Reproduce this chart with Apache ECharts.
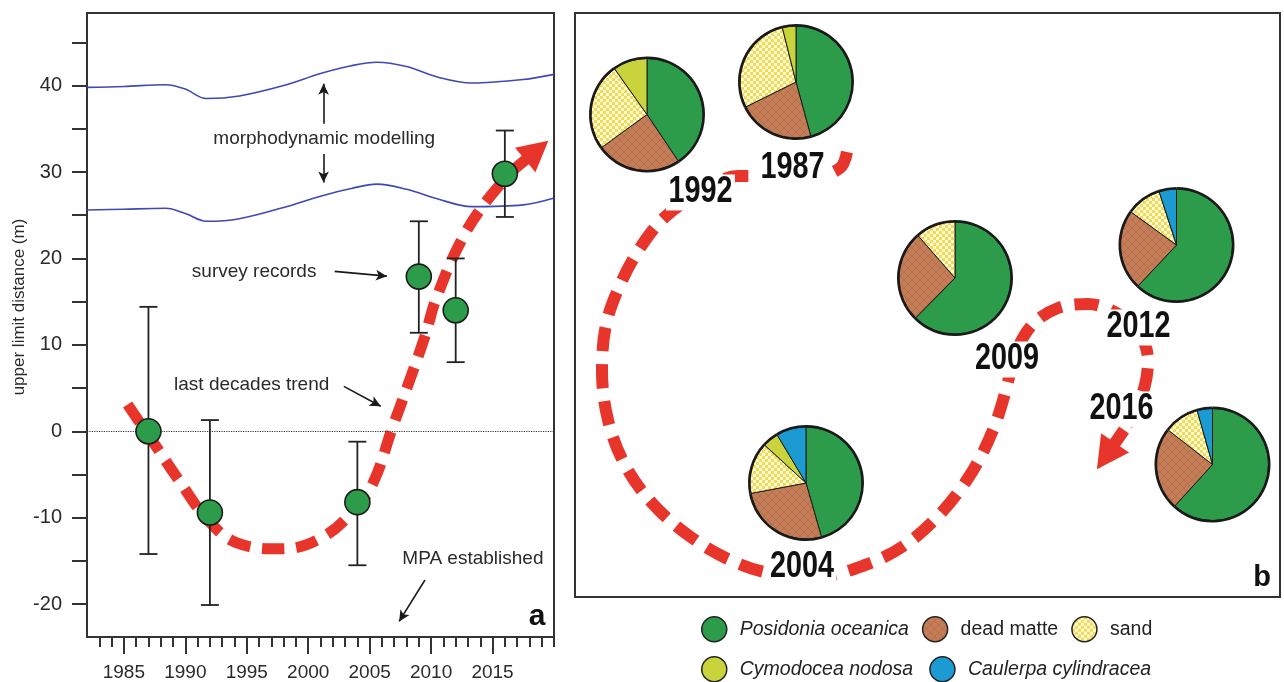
<!DOCTYPE html>
<html>
<head>
<meta charset="utf-8">
<script src="https://cdn.jsdelivr.net/npm/echarts@6/dist/echarts.min.js"></script>
<style>
html, body { margin: 0; padding: 0; background: #fff; }
#chart { width: 1284px; height: 682px; }
</style>
</head>
<body>
<div id="chart"></div>
<script>
// ---- panel a: upper limit distance ----
const surveyYears = [1987, 1992, 2004, 2009, 2012, 2016];
const surveyValues = [0, -9.4, -8.2, 17.9, 14.0, 29.8];
const errorLow = [-14.2, -20.1, -15.5, 11.4, 8.0, 24.8];
const errorHigh = [14.4, 1.3, -1.2, 24.3, 20.0, 34.8];

const modelYears = [1982, 1985, 1988.4, 1990, 1991.7, 1994.4, 1998, 2001, 2003.5, 2005.6, 2008, 2010.5, 2013.3, 2017.5, 2020];
const modelUpper = [39.8, 39.9, 40.1, 39.6, 38.5, 38.8, 40.0, 41.4, 42.3, 42.7, 42.2, 41.0, 40.3, 40.7, 41.3];
const modelLower = [25.6, 25.7, 25.8, 25.2, 24.3, 24.6, 25.9, 27.2, 28.1, 28.6, 28.0, 26.9, 26.0, 26.2, 27.0];

const trendYears = [1985.3, 1987.5, 1989.4, 1991.8, 1994.2, 1997.8, 2001.1, 2003.8, 2005.3, 2006.8, 2008.0, 2009.5, 2010.4, 2012.5, 2014.6, 2016.9];
const trendValues = [3.1, -1.5, -5.5, -10.2, -12.9, -13.6, -12.3, -9.0, -5.9, 0.2, 4.9, 11.0, 15.3, 22.2, 26.8, 30.5];
const trendTip = [2018.6, 32.5];

const xTickLabels = [1985, 1990, 1995, 2000, 2005, 2010, 2015];
const yTickLabels = [-20, -10, 0, 10, 20, 30, 40];

// ---- panel b: seabed cover ----
const coverTypes = ["Posidonia oceanica", "dead matte", "sand", "Cymodocea nodosa", "Caulerpa cylindracea"];
const pieYears = [1987, 1992, 2004, 2009, 2012, 2016];
const posidonia = [45.7, 40.6, 45.6, 62.4, 62.0, 61.8];
const deadMatte = [21.9, 24.4, 26.5, 26.2, 23.0, 23.8];
const sand = [28.4, 25.2, 14.8, 11.4, 10.0, 10.1];
const cymodocea = [3.9, 9.8, 4.6, 0, 0, 0];
const caulerpa = [0, 0, 8.6, 0, 5.0, 4.4];

// panel b positions (panel units, origin top-left of the box)
const piePositions = [[221, 69], [72, 101.5], [231, 470], [380, 265], [601.5, 232], [637.5, 451.5]];
const yearLabelPositions = [[217.5, 155], [125.5, 179.5], [227, 554], [432, 346.5], [563.5, 314.5], [546.5, 396.5]];
const trajectory = [
    [272, 139], [265, 155], [240, 163], [200, 163], [163, 163], [125, 180], [90, 204], [65, 235],
    [45, 272], [31, 312], [27, 357], [33, 407], [50, 452], [77, 490], [113, 522], [155, 547],
    [200, 561], [245, 563], [290, 552], [330, 532], [367, 499], [397, 459], [418, 417], [431, 377],
    [440, 342], [457, 312], [483, 295], [513, 291], [543, 301], [565, 322], [573, 347], [570, 372],
    [561, 395], [549, 417]
];
const trajectoryTip = [531, 443];

const RED = "#e8352b";
const FONT = "'Liberation Sans', Arial, sans-serif";

function makePattern(kind) {
    const c = document.createElement("canvas");
    const ctx = c.getContext("2d");
    if (kind === "sand") {
        c.width = 6; c.height = 6;
        ctx.fillStyle = "#fffbd8";
        ctx.fillRect(0, 0, 6, 6);
        ctx.fillStyle = "#f2da55";
        ctx.fillRect(0, 0, 3, 3);
        ctx.fillRect(3, 3, 3, 3);
    } else {
        c.width = 8; c.height = 8;
        ctx.fillStyle = "#c47d57";
        ctx.fillRect(0, 0, 8, 8);
        ctx.strokeStyle = "#b46f4c";
        ctx.lineWidth = 1;
        ctx.beginPath();
        ctx.moveTo(0, 0); ctx.lineTo(8, 8);
        ctx.moveTo(8, 0); ctx.lineTo(0, 8);
        ctx.stroke();
    }
    return { image: c, repeat: "repeat" };
}

const coverFills = ["#2c9c4b", makePattern("matte"), makePattern("sand"), "#c9d43c", "#1c9ad2"];
const coverShares = [posidonia, deadMatte, sand, cymodocea, caulerpa];

const yearTicks = [];
for (let y = 1983; y <= 2020; y++) yearTicks.push(y);
const yTicks = [];
for (let v = -20; v <= 45; v += 5) yTicks.push(v);

const chart = echarts.init(document.getElementById("chart"));

const thinArrow = { color: "#1a1a1a", width: 1.6, type: "solid" };

const baseSeries = [
    {
        name: "model upper",
        type: "line",
        xAxisIndex: 0, yAxisIndex: 0,
        data: modelYears.map((y, i) => [y, modelUpper[i]]),
        smooth: 0.35,
        showSymbol: false,
        lineStyle: { color: "#3f48b4", width: 1.6 },
        silent: true,
        z: 2
    },
    {
        name: "model lower",
        type: "line",
        xAxisIndex: 0, yAxisIndex: 0,
        data: modelYears.map((y, i) => [y, modelLower[i]]),
        smooth: 0.35,
        showSymbol: false,
        lineStyle: { color: "#3f48b4", width: 1.6 },
        silent: true,
        z: 2,
        markLine: {
            silent: true,
            symbol: "none",
            label: { show: false },
            lineStyle: { type: "dotted", width: 1.2, color: "#333" },
            data: [{ yAxis: 0 }]
        }
    },
    {
        name: "trend",
        type: "line",
        xAxisIndex: 0, yAxisIndex: 0,
        data: trendYears.map((y, i) => [y, trendValues[i]]),
        smooth: 0.4,
        showSymbol: false,
        lineStyle: { color: RED, width: 11, type: [22, 12], cap: "butt" },
        silent: true,
        z: 3,
        markLine: {
            silent: true,
            symbol: ["none", "triangle"],
            symbolSize: [32, 30],
            label: { show: false },
            lineStyle: { color: RED, width: 11, type: "solid" },
            data: [[
                { coord: [trendYears[trendYears.length - 1], trendValues[trendValues.length - 1]] },
                { coord: trendTip }
            ]]
        }
    },
    {
        name: "error",
        type: "custom",
        xAxisIndex: 0, yAxisIndex: 0,
        data: surveyYears.map((y, i) => [y, errorLow[i], errorHigh[i]]),
        encode: { x: 0, y: [1, 2] },
        silent: true,
        z: 4,
        renderItem: function (params, api) {
            const x = api.value(0);
            const lo = api.coord([x, api.value(1)]);
            const hi = api.coord([x, api.value(2)]);
            const w = 9;
            const style = { stroke: "#222", lineWidth: 1.8, fill: null };
            return {
                type: "group",
                children: [
                    { type: "line", shape: { x1: hi[0], y1: hi[1], x2: lo[0], y2: lo[1] }, style: style },
                    { type: "line", shape: { x1: hi[0] - w, y1: hi[1], x2: hi[0] + w, y2: hi[1] }, style: style },
                    { type: "line", shape: { x1: lo[0] - w, y1: lo[1], x2: lo[0] + w, y2: lo[1] }, style: style }
                ]
            };
        }
    },
    {
        name: "survey records",
        type: "scatter",
        xAxisIndex: 0, yAxisIndex: 0,
        data: surveyYears.map((y, i) => [y, surveyValues[i]]),
        symbolSize: 25,
        itemStyle: { color: "#2c9c4b", borderColor: "#1a1a1a", borderWidth: 1.6, opacity: 1 },
        silent: true,
        z: 5
    },
    {
        name: "annotations",
        type: "scatter",
        xAxisIndex: 0, yAxisIndex: 0,
        symbolSize: 1,
        itemStyle: { color: "rgba(0,0,0,0)", opacity: 1 },
        silent: true,
        z: 6,
        data: [
            [2001.3, 33.8, "morphodynamic modelling"],
            [1995.6, 18.5, "survey records"],
            [1995.4, 5.4, "last decades trend"],
            [2013.4, -14.8, "MPA established"]
        ],
        label: {
            show: true,
            position: "inside",
            formatter: (p) => p.value[2],
            fontSize: 19,
            fontFamily: FONT,
            color: "#2a2a2a"
        },
        markLine: {
            silent: true,
            symbol: ["none", "arrow"],
            symbolSize: [8, 11],
            label: { show: false },
            lineStyle: thinArrow,
            data: [
                [{ coord: [2002.15, 18.5] }, { coord: [2006.4, 17.95] }],
                [{ coord: [2002.9, 5.2] }, { coord: [2005.9, 2.9] }],
                [{ coord: [2009.5, -17.2] }, { coord: [2007.4, -22.0] }],
                [{ coord: [2001.25, 35.6] }, { coord: [2001.25, 40.2] }],
                [{ coord: [2001.25, 32.1] }, { coord: [2001.25, 28.8] }]
            ]
        }
    },
    {
        name: "trajectory",
        type: "line",
        xAxisIndex: 2, yAxisIndex: 1,
        data: trajectory,
        smooth: 0.35,
        showSymbol: false,
        lineStyle: { color: RED, width: 12, type: [24, 13], cap: "butt" },
        silent: true,
        z: 2,
        markLine: {
            silent: true,
            symbol: ["none", "triangle"],
            symbolSize: [34, 32],
            label: { show: false },
            lineStyle: { color: RED, width: 12, type: "solid" },
            data: [[{ coord: trajectory[trajectory.length - 1] }, { coord: trajectoryTip }]]
        }
    },
    {
        name: "year labels",
        type: "custom",
        xAxisIndex: 2, yAxisIndex: 1,
        silent: true,
        z: 4,
        data: pieYears.map((y, i) => [yearLabelPositions[i][0], yearLabelPositions[i][1], y]),
        renderItem: function (params, api) {
            const p = api.coord([api.value(0), api.value(1)]);
            return {
                type: "text",
                x: p[0], y: p[1],
                scaleX: 0.8,
                style: {
                    text: String(api.value(2)),
                    font: "bold 36px " + FONT,
                    fill: "#111",
                    align: "center",
                    verticalAlign: "middle",
                    backgroundColor: "#fff",
                    padding: [0, 3, 0, 3]
                }
            };
        }
    }
];

const italicNames = ["Posidonia oceanica", "Cymodocea nodosa", "Caulerpa cylindracea"];
const legendText = {
    color: "#222",
    fontSize: 19.5,
    padding: [0, 0, 0, 8],
    rich: {
        i: { fontStyle: "italic", fontSize: 19.5, fontFamily: FONT, color: "#222" },
        n: { fontSize: 19.5, fontFamily: FONT, color: "#222" }
    }
};
const legendFormatter = (name) => italicNames.includes(name) ? "{i|" + name + "}" : "{n|" + name + "}";

const option = {
    animation: false,
    textStyle: { fontFamily: FONT },
    grid: [
        { left: 87, top: 13, width: 467, height: 625, show: true, borderColor: "#333", borderWidth: 2, backgroundColor: "#fff" },
        { left: 575, top: 13, width: 705, height: 584, show: true, borderColor: "#333", borderWidth: 2, backgroundColor: "#fff" }
    ],
    xAxis: [
        {
            type: "value", gridIndex: 0, min: 1982, max: 2020, position: "bottom",
            axisLine: { show: true, onZero: false, lineStyle: { color: "#333", width: 2 } },
            axisTick: { show: true, customValues: yearTicks, length: 10, lineStyle: { color: "#333", width: 2 } },
            axisLabel: { show: false },
            splitLine: { show: false }
        },
        {
            type: "value", gridIndex: 0, min: 1982, max: 2020, position: "bottom",
            axisLine: { show: false, onZero: false },
            axisTick: { show: true, customValues: xTickLabels, length: 17, lineStyle: { color: "#333", width: 2 } },
            axisLabel: {
                show: true, customValues: xTickLabels, fontSize: 19, color: "#2a2a2a", margin: 26, fontFamily: FONT,
                formatter: (v) => String(v)
            },
            splitLine: { show: false }
        },
        { type: "value", gridIndex: 1, min: 0, max: 705, show: false }
    ],
    yAxis: [
        {
            type: "value", gridIndex: 0, min: -23.8, max: 48.4,
            axisLine: { show: true, onZero: false, lineStyle: { color: "#333", width: 2 } },
            axisTick: { show: true, customValues: yTicks, length: 15, lineStyle: { color: "#333", width: 2 } },
            axisLabel: { show: true, customValues: yTickLabels, fontSize: 20, color: "#2a2a2a", margin: 25, fontFamily: FONT },
            splitLine: { show: false }
        },
        { type: "value", gridIndex: 1, min: 0, max: 584, inverse: true, show: false }
    ],
    legend: [
        {
            data: coverTypes.slice(0, 3),
            left: 696, top: 611,
            itemWidth: 25, itemHeight: 25, itemGap: 13,
            icon: "circle",
            itemStyle: { borderColor: "#222", borderWidth: 1.5 },
            textStyle: legendText,
            formatter: legendFormatter,
            selectedMode: false
        },
        {
            data: coverTypes.slice(3),
            left: 696, top: 651,
            itemWidth: 25, itemHeight: 25, itemGap: 16,
            icon: "circle",
            itemStyle: { borderColor: "#222", borderWidth: 1.5 },
            textStyle: legendText,
            formatter: legendFormatter,
            selectedMode: false
        }
    ],
    graphic: [
        {
            type: "text", x: 19, y: 307, rotation: Math.PI / 2,
            style: { text: "upper limit distance (m)", font: "17px " + FONT, fill: "#2a2a2a", align: "center", verticalAlign: "middle" }
        },
        {
            type: "text", x: 537, y: 617,
            style: { text: "a", font: "bold 30px " + FONT, fill: "#111", align: "center", verticalAlign: "middle" }
        },
        {
            type: "text", x: 1262, y: 578,
            style: { text: "b", font: "bold 29px " + FONT, fill: "#111", align: "center", verticalAlign: "middle" }
        }
    ],
    series: baseSeries
};

chart.setOption(option);

// pies placed at panel-b positions through the hidden panel axes
const pieSeries = [];
pieYears.forEach((year, i) => {
    const center = chart.convertToPixel({ xAxisIndex: 2, yAxisIndex: 1 }, piePositions[i]);
    const slices = coverTypes
        .map((name, k) => ({ name: name, value: coverShares[k][i], itemStyle: { color: coverFills[k] } }))
        .filter((d) => d.value > 0);
    pieSeries.push({
        name: String(year),
        type: "pie",
        center: center,
        radius: 56,
        startAngle: 90,
        clockwise: true,
        silent: true,
        z: 5,
        label: { show: false },
        labelLine: { show: false },
        itemStyle: { borderColor: "#1a1a1a", borderWidth: 1 },
        data: slices
    });
    pieSeries.push({
        name: year + " outline",
        type: "pie",
        center: center,
        radius: [55.5, 58],
        startAngle: 90,
        silent: true,
        z: 6,
        label: { show: false },
        labelLine: { show: false },
        itemStyle: { color: "#1a1a1a", borderWidth: 0 },
        data: slices.map((d) => d.value)
    });
});

chart.setOption({ series: baseSeries.concat(pieSeries) });
</script>
</body>
</html>
